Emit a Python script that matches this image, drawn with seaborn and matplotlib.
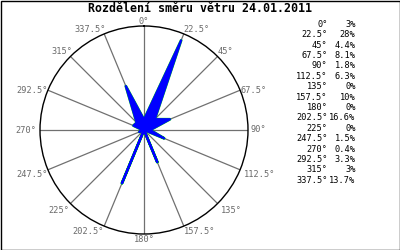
import numpy as np
import matplotlib
matplotlib.use("Agg")
import matplotlib.pyplot as plt
import seaborn as sns

directions = [0, 22.5, 45, 67.5, 90, 112.5, 135, 157.5, 180, 202.5, 225, 247.5, 270, 292.5, 315, 337.5]
dir_labels = ["0°", "22.5°", "45°", "67.5°", "90°", "112.5°", "135°", "157.5°", "180°",
              "202.5°", "225°", "247.5°", "270°", "292.5°", "315°", "337.5°"]
percent = [3, 28, 4.4, 8.1, 1.8, 6.3, 0, 10, 0, 16.6, 0, 1.5, 0.4, 3.3, 3, 13.7]
percent_labels = ["3%", "28%", "4.4%", "8.1%", "1.8%", "6.3%", "0%", "10%", "0%",
                  "16.6%", "0%", "1.5%", "0.4%", "3.3%", "3%", "13.7%"]
title = "Rozdělení směru větru 24.01.2011"

sns.set_style("white")
plt.rcParams['font.family'] = ['DejaVu Sans Mono', 'DejaVu Sans']

W, H = 400, 250
fig = plt.figure(figsize=(4, 2.5), dpi=100)
fig.patch.set_facecolor("white")

cx, cy, R = 144, 130, 104
ax = fig.add_axes([(cx - R) / W, (H - cy - R) / H, 2 * R / W, 2 * R / H], projection="polar")
ax.set_theta_zero_location("N")
ax.set_theta_direction(-1)
rmax = 30
ax.set_ylim(0, rmax)
ax.set_facecolor("white")

# spokes
th = np.deg2rad(directions)
for t in th:
    ax.plot([t, t], [0, rmax], color="#707070", lw=0.9, zorder=1)

# filled rose polygon (green rim beneath the blue)
tt = np.append(th, th[0])
rr = np.append(percent, percent[0])
ax.fill(tt, rr, fc="none", ec="#00dd00", lw=2.0, joinstyle="round", zorder=2)
ax.fill(tt, rr, fc="#0000ff", ec="#0000ff", lw=1.6, joinstyle="round", zorder=3)

ax.grid(False)
ax.set_xticks([])
ax.set_yticks([])
ax.spines["polar"].set_color("black")
ax.spines["polar"].set_linewidth(1.0)

# angle labels
for d, lab, t in zip(directions, dir_labels, th):
    if d in (0, 180):
        ha = "center"
    elif d < 180:
        ha = "left"
    else:
        ha = "right"
    if d <= 45 or d >= 315:
        va = "bottom"
    elif d in (67.5, 90, 270, 292.5):
        va = "center"
    else:
        va = "top"
    dx, dy = 0, 0
    if d == 90:
        dx = 3
    elif d == 270:
        dx = -4
    elif d == 112.5:
        dx = 4
    elif d == 135:
        dx, dy = 3, -2
    elif d == 225:
        dx, dy = -1, -2
    elif d in (157.5, 180, 202.5):
        dy = -1
    elif d in (315, 337.5):
        dx = 2
    ax.annotate(lab, xy=(t, rmax), xytext=(dx * 0.72, dy * 0.72), textcoords="offset points",
                ha=ha, va=va, fontsize=6.2, color="#6a6a6a", annotation_clip=False)

# table on the right
y0, step = 24.3, 10.4
for i, (lab, p) in enumerate(zip(dir_labels, percent_labels)):
    y = 1 - (y0 + i * step) / H
    fig.text(327.5 / W, y, lab, ha="right", va="center", fontsize=6.2, color="black")
    fig.text(355.5 / W, y, p, ha="right", va="center", fontsize=6.2, color="black")

fig.text(200 / W, 1 - 9 / H, title, ha="center", va="center", fontsize=8.4,
         fontweight="bold", color="black")

# outer border
fig.patches.append(plt.Rectangle((0.5 / W, 0.5 / H), (W - 1) / W, (H - 1) / H,
                                 transform=fig.transFigure, fill=False, ec="black", lw=1.0))

fig.savefig("out.png", dpi=100)
